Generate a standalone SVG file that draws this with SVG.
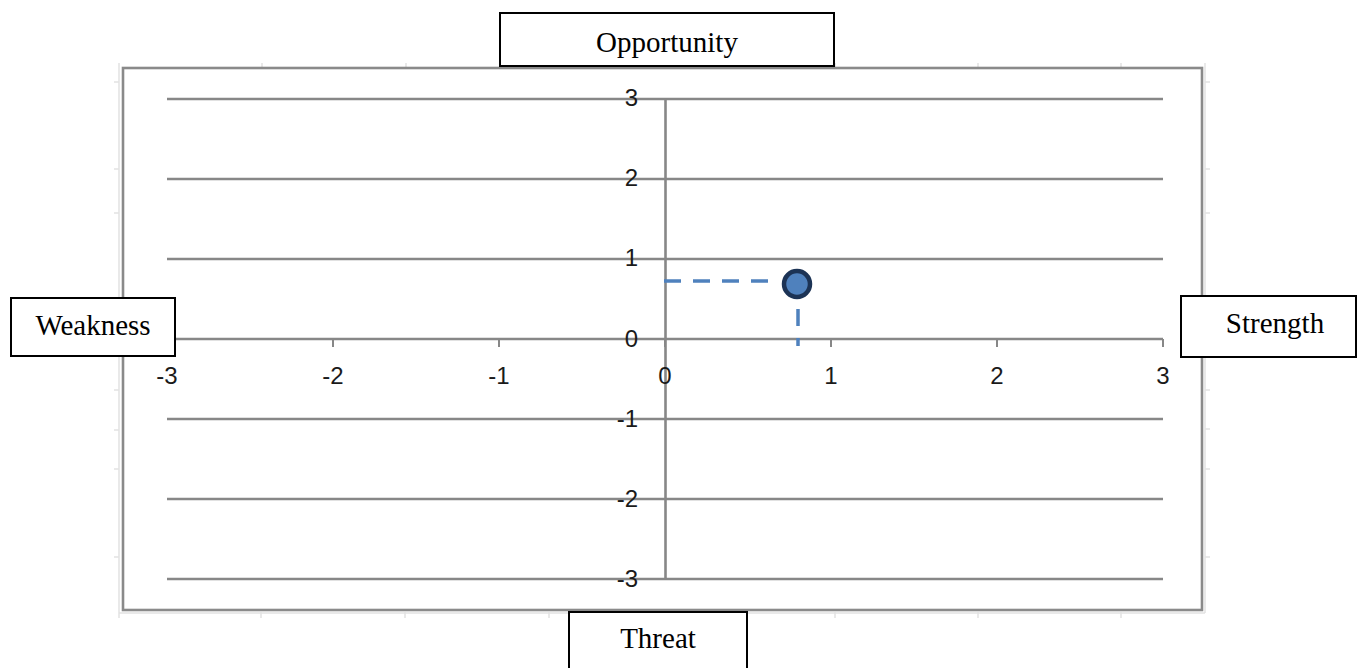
<svg xmlns="http://www.w3.org/2000/svg" width="1358" height="668" viewBox="0 0 1358 668">
  <style>
    .faint { stroke: #e2e2e2; stroke-width: 1.5; fill: none; }
    .frame { stroke: #8a8a8a; stroke-width: 2.6; fill: none; }
    .grid { stroke: #878787; stroke-width: 2.6; fill: none; }
    .tick { stroke: #878787; stroke-width: 2; fill: none; }
    .num { font-family: "Liberation Sans", Arial, sans-serif; font-size: 24px; fill: #1a1a1a; }
    .box { fill: #ffffff; stroke: #000000; stroke-width: 2; }
    .lbl { font-family: "Liberation Serif", "Times New Roman", serif; font-size: 29px; fill: #000000; text-anchor: middle; }
    .dash { stroke: #4f81bd; stroke-width: 3.5; fill: none; stroke-dasharray: 17 12; }
  </style>

  <rect x="0" y="0" width="1358" height="668" fill="#ffffff"/>

  <g id="background-ticks">
    <path class="faint" d="M119 63 V618 M1205 63 V613 M119 613 H1205"/>
    <path class="faint" d="M262 63 V68 M406 63 V68 M549 63 V68 M835 63 V68 M978 63 V68 M1121 63 V68"/>
    <path class="faint" d="M261 612 V618 M405 612 V618 M549 612 V618 M835 612 V618 M978 612 V618 M1121 612 V618"/>
    <path class="faint" d="M114 82 H119 M114 169 H119 M114 213 H119 M114 390 H119 M114 430 H119 M114 469 H119 M114 557 H119"/>
    <path class="faint" d="M1205 82 H1210 M1205 169 H1210 M1205 213 H1210 M1205 390 H1210 M1205 429 H1210 M1205 469 H1210 M1205 557 H1210"/>
  </g>

  <g id="chart-frame">
    <rect class="frame" x="123" y="68" width="1079" height="542"/>
  </g>

  <g id="gridlines">
    <path class="grid" d="M167 99 H1163 M167 179 H1163 M167 259 H1163 M167 339 H1163 M167 419 H1163 M167 499 H1163 M167 579 H1163"/>
    <path class="grid" d="M665.5 99 V579"/>
    <path class="tick" d="M167 339 V347 M333 339 V347 M499 339 V347 M665 339 V347 M831 339 V347 M997 339 V347 M1163 339 V347"/>
  </g>

  <g id="y-axis-labels" class="num" text-anchor="end">
    <text x="638" y="106">3</text>
    <text x="638" y="186">2</text>
    <text x="638" y="266">1</text>
    <text x="638" y="347">0</text>
    <text x="638" y="427">-1</text>
    <text x="638" y="507">-2</text>
    <text x="638" y="587">-3</text>
  </g>

  <g id="x-axis-labels" class="num" text-anchor="middle">
    <text x="167" y="384">-3</text>
    <text x="333" y="384">-2</text>
    <text x="499" y="384">-1</text>
    <text x="665" y="384">0</text>
    <text x="831" y="384">1</text>
    <text x="997" y="384">2</text>
    <text x="1163" y="384">3</text>
  </g>

  <g id="connectors">
    <path class="dash" d="M664 281 H772"/>
    <path class="dash" d="M798 309 V346"/>
  </g>

  <g id="point">
    <circle cx="797" cy="284" r="13" fill="#4f81bd" stroke="#1c3355" stroke-width="4.5"/>
  </g>

  <g id="opportunity">
    <rect class="box" x="500" y="13" width="334" height="53"/>
    <text class="lbl" x="667" y="52">Opportunity</text>
  </g>

  <g id="weakness">
    <rect class="box" x="11" y="298" width="164" height="58"/>
    <text class="lbl" x="93" y="335">Weakness</text>
  </g>

  <g id="strength">
    <rect class="box" x="1181" y="296" width="175" height="61"/>
    <text class="lbl" x="1275" y="333">Strength</text>
  </g>

  <g id="threat">
    <rect class="box" x="569" y="612" width="178" height="70"/>
    <text class="lbl" x="658" y="648">Threat</text>
  </g>
</svg>
